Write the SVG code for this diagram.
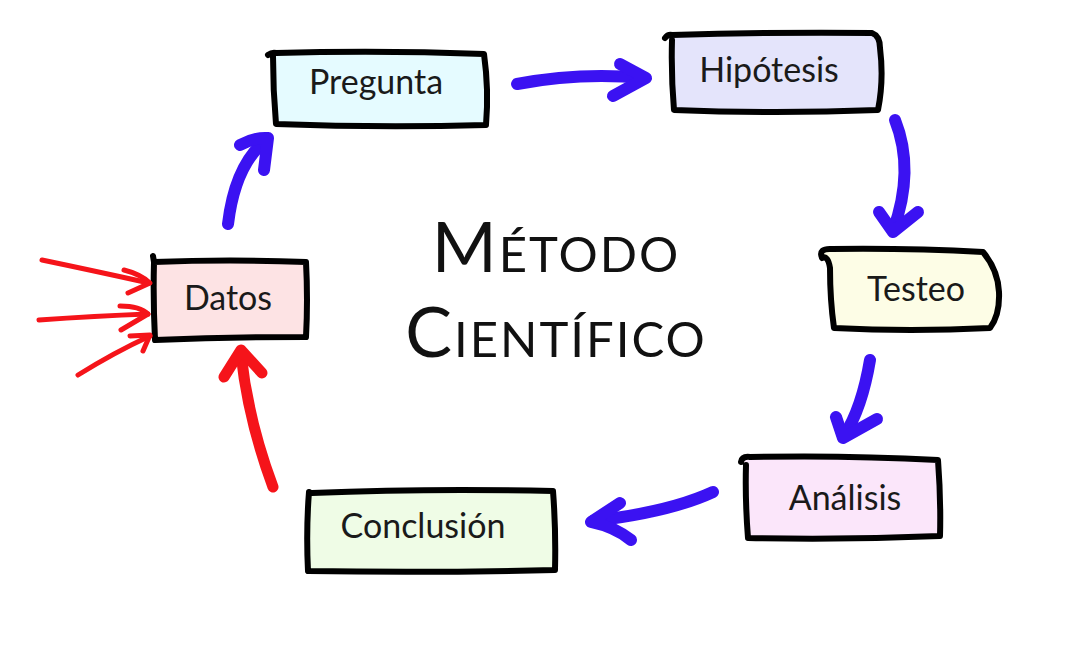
<svg xmlns="http://www.w3.org/2000/svg" width="1074" height="646" viewBox="0 0 1074 646">
<style>
.box{stroke:#000;stroke-width:6;stroke-linejoin:round;stroke-linecap:round}
.lbl{font-family:Lato,"Open Sans",sans-serif;font-size:34px;fill:#1a1a1a;text-anchor:middle}
.title{font-family:Lato,"Open Sans",sans-serif;font-size:70px;fill:#111;text-anchor:middle;font-variant:small-caps;letter-spacing:2px}
.blue{fill:none;stroke:#3b12f2;stroke-width:12;stroke-linecap:round;stroke-linejoin:round}
.red{fill:none;stroke:#f5141a;stroke-width:11;stroke-linecap:round;stroke-linejoin:round}
.redthin{fill:none;stroke:#f5141a;stroke-width:5;stroke-linecap:round;stroke-linejoin:round}
</style>
<rect width="1074" height="646" fill="#fff"/>

<g id="title">
<text class="title" x="556" y="272">Método</text>
<text class="title" x="556" y="357" letter-spacing="3.5">Científico</text>
</g>

<g id="pregunta">
<path class="box" fill="#e5fbff" d="M268,55 Q272,52 276,53 Q380,50 484,54 Q489,90 486,125 Q380,128 276,124 Q273,90 273,56"/>
<text class="lbl" x="376" y="94">Pregunta</text>
</g>

<g id="hipotesis">
<path class="box" fill="#e4e4fb" d="M665,38 Q668,34 672,35 Q770,32 872,33 Q880,36 880,48 Q884,80 878,110 Q775,114 674,110 Q671,75 672,40"/>
<text class="lbl" x="769" y="82">Hipótesis</text>
</g>

<g id="testeo">
<path class="box" fill="#fdfde6" d="M822,258 Q818,248 832,249 Q910,248 983,252 Q998,270 999,292 Q1000,315 990,328 Q910,332 834,328 Q830,300 830,268 Q828,255 822,258 Z"/>
<text class="lbl" x="916" y="301">Testeo</text>
</g>

<g id="analisis">
<path class="box" fill="#fbe6fa" d="M741,462 Q742,456 750,457 Q845,455 938,460 Q941,500 940,536 Q845,540 748,538 Q745,500 746,465"/>
<text class="lbl" x="845" y="510">Análisis</text>
</g>

<g id="conclusion">
<path class="box" fill="#effce6" d="M312,493 Q430,488 553,491 Q556,530 555,570 Q430,573 308,571 Q306,530 309,492"/>
<text class="lbl" x="423" y="538">Conclusión</text>
</g>

<g id="datos">
<path class="box" fill="#fde3e4" d="M153,256 L154,262 Q230,259 306,262 Q308,300 306,337 Q230,337 155,340 Q153,300 154,262"/>
<text class="lbl" x="228" y="310">Datos</text>
</g>

<g id="connectors">
<path class="blue" d="M517,84 Q580,72 644,78"/>
<path class="blue" d="M620,64 L646,78 L613,96"/>
<path class="blue" d="M895,120 Q915,170 893,231"/>
<path class="blue" d="M879,212 L893,232 L918,212"/>
<path class="blue" d="M870,360 Q862,408 844,436"/>
<path class="blue" d="M836,417 L843,438 L877,419"/>
<path class="blue" d="M713,492 Q670,512 593,521"/>
<path class="blue" d="M620,503 L591,522 Q615,527 631,540"/>
<path class="blue" d="M228,224 Q235,165 266,140"/>
<path class="blue" d="M240,145 Q255,137 268,138 L264,170"/>
<path class="red" d="M273,487 Q248,420 241,354"/>
<path class="red" d="M224,377 L241,350 L262,373"/>
<path class="redthin" d="M42,260 Q90,270 149,283"/>
<path class="redthin" d="M124,270 Q140,274 150,283 L128,293"/>
<path class="redthin" d="M39,320 Q95,316 148,314"/>
<path class="redthin" d="M120,306 Q140,306 148,314 L121,330"/>
<path class="redthin" d="M78,375 Q115,352 150,336"/>
<path class="redthin" d="M130,336 L150,335 L143,351"/>
</g>
</svg>
